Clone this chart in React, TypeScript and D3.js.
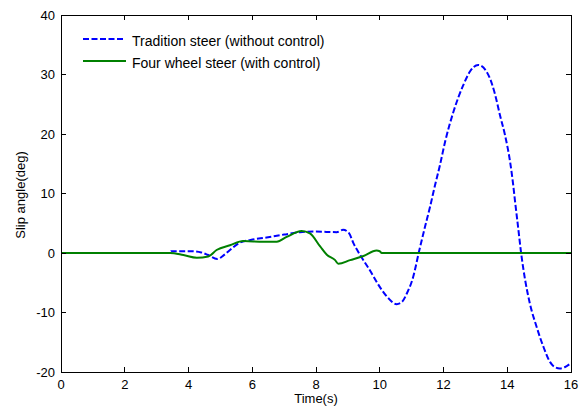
import React from "react";
import * as d3 from "d3";

// Slip angle response over time for two steering setups
const traditionTime = [0, 3.4, 3.45, 3.8, 4.1, 4.4, 4.6, 4.9, 5.1, 5.3, 5.6, 5.95, 6.45, 7.0, 7.5, 8.0, 8.65, 8.85, 9.04, 9.17, 9.38, 9.69, 10.0, 10.27, 10.53, 10.7, 10.85, 11.05, 11.23, 11.42, 11.58, 11.73, 11.89, 12.05, 12.31, 12.62, 12.83, 13.09, 13.41, 13.62, 13.77, 13.93, 14.09, 14.19, 14.24, 14.35, 14.43, 14.56, 14.71, 14.92, 15.13, 15.34, 15.5, 15.65, 15.8, 16.0];
const traditionSlip = [0, 0, 0.3, 0.3, 0.3, 0.1, -0.3, -1.0, -0.4, 0.5, 1.7, 2.2, 2.6, 3.1, 3.5, 3.6, 3.5, 3.9, 3.3, 1.7, -0.3, -2.9, -5.7, -7.6, -8.6, -8.2, -6.8, -4.0, 0.2, 4.4, 7.8, 11.3, 14.8, 18.7, 23.7, 28.2, 30.5, 31.6, 29.9, 26.6, 23.2, 19.8, 15.3, 11.3, 8.9, 3.9, 0.2, -4.5, -8.5, -12.4, -15.7, -18.3, -19.2, -19.4, -19.2, -18.5];

const fourWheelTime = [0, 3.42, 3.84, 4.26, 4.62, 4.88, 5.3, 5.72, 6.35, 6.77, 7.08, 7.55, 7.81, 8.13, 8.34, 8.6, 8.7, 9.07, 9.49, 9.9, 10.0, 10.06, 16.0];
const fourWheelSlip = [0, 0, -0.35, -0.8, -0.6, 0.5, 1.3, 2.0, 1.9, 1.9, 2.7, 3.7, 3.3, 1.1, -0.3, -1.2, -1.8, -1.2, -0.5, 0.4, 0.3, 0, 0];

const xTicks = [0, 2, 4, 6, 8, 10, 12, 14, 16];
const yTicks = [-20, -10, 0, 10, 20, 30, 40];

const legendLabels = ["Tradition steer (without control)", "Four wheel steer (with control)"];

const W = 586;
const H = 414;
const margin = { left: 61, right: 15, top: 15, bottom: 42 };

export default function App() {
  const x = d3.scaleLinear().domain([0, 16]).range([margin.left, W - margin.right]);
  const y = d3.scaleLinear().domain([-20, 40]).range([H - margin.bottom, margin.top]);

  const line = d3
    .line<[number, number]>()
    .x((d) => x(d[0]))
    .y((d) => y(d[1]))
    .curve(d3.curveMonotoneX);

  const tradPts = traditionTime.map((t, i) => [t, traditionSlip[i]] as [number, number]);
  const fourPts = fourWheelTime.map((t, i) => [t, fourWheelSlip[i]] as [number, number]);

  const x0 = x(0), x1 = x(16), y0 = y(-20), y1 = y(40);
  const tick = 5;
  const font = "'Liberation Sans', Arial, sans-serif";

  return (
    <svg
      width={W}
      height={H}
      style={{ position: "absolute", left: 0, top: 0, background: "#fff" }}
      fontFamily={font}
    >
      <rect x={0} y={0} width={W} height={H} fill="#fff" />
      <defs>
        <clipPath id="plotClip">
          <rect x={x0} y={y1} width={x1 - x0} height={y0 - y1} />
        </clipPath>
      </defs>

      <g clipPath="url(#plotClip)">
        <path d={line(tradPts) || ""} fill="none" stroke="#0000ff" strokeWidth={2} strokeDasharray="6,2.5" />
        <path d={line(fourPts) || ""} fill="none" stroke="#008000" strokeWidth={2} />
      </g>

      {/* axes box */}
      <rect x={x0} y={y1} width={x1 - x0} height={y0 - y1} fill="none" stroke="#000" strokeWidth={1} shapeRendering="crispEdges" />

      {xTicks.map((t) => (
        <g key={"x" + t}>
          <line x1={x(t)} x2={x(t)} y1={y0} y2={y0 - tick} stroke="#000" shapeRendering="crispEdges" />
          <line x1={x(t)} x2={x(t)} y1={y1} y2={y1 + tick} stroke="#000" shapeRendering="crispEdges" />
          <text x={x(t)} y={y0 + 16.5} fontSize={13} textAnchor="middle" fill="#000">
            {t}
          </text>
        </g>
      ))}

      {yTicks.map((v) => (
        <g key={"y" + v}>
          <line x1={x0} x2={x0 + tick} y1={y(v)} y2={y(v)} stroke="#000" shapeRendering="crispEdges" />
          <line x1={x1} x2={x1 - tick} y1={y(v)} y2={y(v)} stroke="#000" shapeRendering="crispEdges" />
          <text x={x0 - 6} y={y(v) + 4.5} fontSize={13} textAnchor="end" fill="#000">
            {v}
          </text>
        </g>
      ))}

      <text x={(x0 + x1) / 2} y={403} fontSize={13} textAnchor="middle" fill="#000">
        Time(s)
      </text>
      <text
        transform={`translate(${25},${195}) rotate(-90)`}
        fontSize={13}
        textAnchor="middle"
        fill="#000"
      >
        Slip angle(deg)
      </text>

      {/* legend */}
      <g>
        <line x1={83} x2={124} y1={39} y2={39} stroke="#0000ff" strokeWidth={2} strokeDasharray="6,2.5" />
        <text x={132} y={46} fontSize={14} fill="#000">
          {legendLabels[0]}
        </text>
        <line x1={83} x2={126} y1={61} y2={61} stroke="#008000" strokeWidth={2} />
        <text x={132} y={68} fontSize={14} fill="#000">
          {legendLabels[1]}
        </text>
      </g>
    </svg>
  );
}
